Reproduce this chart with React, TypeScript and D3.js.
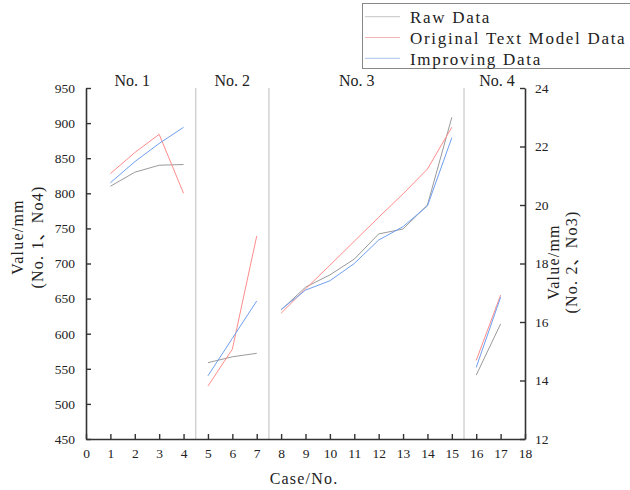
import React, { useEffect, useRef } from 'react';
import * as d3 from 'd3';

// groups of cases, each drawn against its own axis
const groupNames = ['No. 1', 'No. 2', 'No. 3', 'No. 4'];
const groupCases = [
  [1, 2, 3, 4],
  [5, 6, 7],
  [8, 9, 10, 11, 12, 13, 14, 15],
  [16, 17],
];
const groupAxis = ['left', 'right', 'right', 'left'];
const groupLabelAt = [1.9, 6, 11.1, 16.85];
const separators = [4.5, 7.5, 15.5];

const rawData = [
  [810, 830, 840, 841],
  [14.61, 14.81, 14.93],
  [16.41, 17.19, 17.61, 18.15, 19.01, 19.18, 20.0, 23.0],
  [541, 614],
];
const originalData = [
  [828, 858, 884, 800],
  [13.81, 15.07, 18.94],
  [16.3, 17.13, 17.94, 18.76, 19.58, 20.38, 21.23, 22.66],
  [562, 655],
];
const improvingData = [
  [815, 845, 871, 894],
  [14.16, 15.44, 16.72],
  [16.43, 17.09, 17.41, 18.0, 18.8, 19.26, 19.97, 22.3],
  [552, 652],
];

const seriesNames = ['Raw Data', 'Original Text Model Data', 'Improving Data'];
const seriesColors = ['#9a9a9a', '#ff8c8c', '#6f9ff0'];
const legendColors = ['#c4c4c4', '#f7b4b4', '#a8c2ee'];
const seriesData = [rawData, originalData, improvingData];

const leftTicks = d3.range(450, 951, 50);
const rightTicks = d3.range(12, 25, 2);
const xTicks = d3.range(0, 19, 1);

const W = 630;
const H = 490;
const serif = '"Liberation Serif", "Noto Sans CJK SC", serif';

export default function App() {
  const ref = useRef<SVGSVGElement | null>(null);

  useEffect(() => {
    const svg = d3.select(ref.current);
    svg.selectAll('*').remove();

    const left = 86, right = 525, top = 88, bottom = 439;
    const x = d3.scaleLinear().domain([0, 18]).range([left, right]);
    const yL = d3.scaleLinear().domain([450, 950]).range([bottom, top]);
    const yR = d3.scaleLinear().domain([12, 24]).range([bottom, top]);

    // group separators
    svg.selectAll('line.sep').data(separators).enter().append('line')
      .attr('x1', d => x(d)).attr('x2', d => x(d))
      .attr('y1', top).attr('y2', bottom)
      .attr('stroke', '#c8c8c8').attr('stroke-width', 1.2);

    // group labels
    svg.selectAll('text.grp').data(groupNames).enter().append('text')
      .attr('x', (d, i) => x(groupLabelAt[i])).attr('y', 86)
      .attr('text-anchor', 'middle')
      .style('font-family', serif).style('font-size', '16px').attr('fill', '#222')
      .text(d => d);

    // lines
    seriesData.forEach((series, s) => {
      series.forEach((vals, g) => {
        const y = groupAxis[g] === 'left' ? yL : yR;
        const line = d3.line<number>()
          .x((d, i) => x(groupCases[g][i]))
          .y(d => y(d));
        svg.append('path').attr('d', line(vals))
          .attr('fill', 'none').attr('stroke', seriesColors[s]).attr('stroke-width', 1);
      });
    });

    const styleAxis = (g: any) => {
      g.selectAll('path.domain').attr('stroke', '#333').attr('stroke-width', 1.6);
      g.selectAll('.tick line').attr('stroke', '#333').attr('stroke-width', 1.4);
      g.selectAll('.tick text').style('font-family', serif).style('font-size', '13.5px').attr('fill', '#222');
    };

    svg.append('g').attr('transform', `translate(${left},0)`)
      .call(d3.axisLeft(yL).tickValues(leftTicks).tickSizeInner(-5).tickSizeOuter(0).tickPadding(11))
      .call(styleAxis);
    svg.append('g').attr('transform', `translate(${right},0)`)
      .call(d3.axisRight(yR).tickValues(rightTicks).tickSizeInner(-5).tickSizeOuter(0).tickPadding(10))
      .call(styleAxis);
    svg.append('g').attr('transform', `translate(0,${bottom})`)
      .call(d3.axisBottom(x).tickValues(xTicks).tickSizeInner(-5).tickSizeOuter(0).tickPadding(9))
      .call(styleAxis);

    // axis titles
    const title = (sel: any) => sel.style('font-family', serif).style('font-size', '16px')
      .style('letter-spacing', '1.2px').attr('fill', '#222').attr('text-anchor', 'middle');
    svg.append('text').attr('x', 304).attr('y', 484).text('Case/No.').call(title);
    const lt = svg.append('text').attr('transform', 'translate(23,237) rotate(-90)').call(title);
    lt.append('tspan').attr('x', 0).attr('y', 0).text('Value/mm');
    lt.append('tspan').attr('x', 0).attr('y', 20).text('(No. 1、No4)');
    const rt = svg.append('text').attr('transform', 'translate(559,262) rotate(-90)').call(title);
    rt.append('tspan').attr('x', 0).attr('y', 0).text('Value/mm');
    rt.append('tspan').attr('x', 0).attr('y', 18).text('(No. 2、No3)');

    // legend
    const lg = svg.append('g');
    lg.append('rect').attr('x', 362.5).attr('y', 3.5).attr('width', 290).attr('height', 65)
      .attr('fill', 'white').attr('stroke', '#888').attr('stroke-width', 1);
    seriesNames.forEach((name, i) => {
      const yy = 16.7 + i * 20.8;
      lg.append('line').attr('x1', 365).attr('x2', 400).attr('y1', yy).attr('y2', yy)
        .attr('stroke', legendColors[i]).attr('stroke-width', 1);
      lg.append('text').attr('x', 410).attr('y', yy + 6.5)
        .style('font-family', serif).style('font-size', '17px').style('letter-spacing', '1.7px')
        .attr('fill', '#222').text(name);
    });
  }, []);

  return (
    <svg ref={ref} width={W} height={H}
      style={{ position: 'absolute', left: 0, top: 0, background: 'white' }} />
  );
}
